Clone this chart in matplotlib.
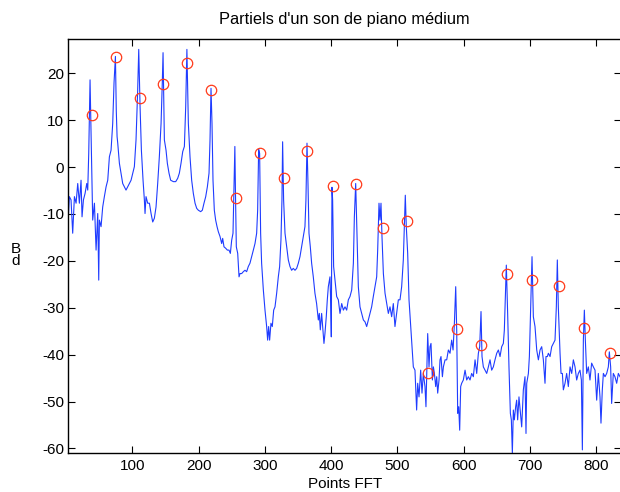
import matplotlib
matplotlib.use("Agg")
import matplotlib.pyplot as plt

plt.rcParams['font.family'] = ['Liberation Sans', 'DejaVu Sans']
plt.rcParams['axes.unicode_minus'] = False

# spectre : points FFT / dB (meme nombre de valeurs par ligne)
fft_pts = [
    3.4, 5, 7.5, 10, 12.6, 15.1, 17.6, 20.1, 22.6, 24.1, 26.2, 28.7, 31.2, 32.7, 34.2, 36.2, 38.2,
    40.2, 42.8, 45.3, 47.8, 49.3, 50.3, 52.8, 55.3, 57.8, 60.4, 62.9, 65.4, 67.9, 70.4, 72.4, 74.5,
    75.8, 77, 78, 80.5, 83, 85.5, 88, 90.5, 93, 95.6, 98.1, 100.6, 103.1, 105.6, 108.1, 109.7,
    111.7, 113.7, 116.2, 118.2, 119.2, 120.7, 123.2, 125.8, 128.3, 130.8, 133.3, 135.8, 138.3,
    140.8, 143.4, 145.2, 146.4, 148.4, 150.9, 152.9, 155.4, 157.9, 162, 165.5, 168.5, 171, 173.5,
    176.1, 178.6, 180.6, 182.4, 184.6, 187.1, 189.6, 192.1, 194.7, 197.2, 199.7, 203.2, 205.7,
    208.2, 210.8, 213.3, 215.8, 217.3, 218.8, 220.3, 221.8, 223.8, 225.8, 227.9, 229.9, 232.4,
    234.9, 236.4, 238.4, 240.9, 243.5, 246, 248, 250, 252, 253.5, 254.8, 255.8, 257, 259.1, 261.1,
    262.6, 265.1, 267.6, 270.1, 272.6, 275.1, 277.6, 280.2, 282.7, 285.2, 287.7, 289.2, 290.7,
    292.2, 293.7, 295.2, 297.8, 300.3, 302.8, 304.3, 305.8, 307.3, 309.3, 311.3, 313.4, 315.4,
    317.9, 320.4, 322.4, 324.4, 325.9, 326.9, 328.4, 330.5, 333, 335.5, 338, 340.5, 343, 345.6,
    348.1, 350.6, 353.1, 355.6, 358.1, 360.6, 362.1, 363.7, 365.2, 366.7, 368.7, 370.7, 373.2,
    375.7, 378.2, 380.8, 382.3, 383.8, 385.8, 387.3, 389.3, 390.8, 392.8, 394.3, 395.9, 398.4,
    399.4, 400.4, 401.4, 402.4, 403.9, 406, 408.5, 411, 413.5, 416.1, 418.6, 421.1, 423.6, 426.1,
    428.6, 431.2, 433.7, 435.2, 437.2, 439.2, 441.2, 443.7, 446.2, 448.8, 451.3, 453.8, 456.3,
    458.8, 461.3, 463.8, 466.4, 468.9, 470.4, 472.4, 473.9, 475.4, 476.9, 479, 481.5, 484, 486.5,
    489, 491.5, 494, 496.5, 499, 501.6, 504.1, 506.6, 509.1, 510.6, 512.1, 513.6, 515.7, 517.7,
    519.7, 521.2, 522.7, 524.2, 526.7, 529.2, 530.8, 532.8, 535.3, 537.3, 539.3, 541.8, 543.3,
    545.9, 547.9, 549.4, 550.9, 553, 554.5, 556, 558, 559.5, 561, 563, 564.5,
    566, 568.1, 569.6, 572.1, 574.6, 577.1, 579.6, 582.1, 584.2, 586.2, 588.2, 589.7,
    591.2, 592.7, 594.2, 595.7, 597.2, 599.7, 602.3, 604.8, 607.3, 609.8, 612.3, 614.8,
    617.4, 619.9, 622.4, 624.4, 626.4, 627.9, 629.9, 632.4, 635, 637.5, 640, 642.5,
    645, 647.5, 650.1, 652.6, 655.1, 657.6, 660.1, 661.6, 663.1, 664.6, 666.6, 668.6,
    670.7, 672.2, 673.7, 675.2, 676.7, 678.7, 680.2, 681.7, 683.7, 687.8, 690.3, 692.8,
    694.3, 695.4, 697.9, 699.4, 701.4, 703.4, 705.4, 707.9, 710.5, 713, 715.5, 718,
    720.5, 723, 724.5, 726.5, 728.1, 730.6, 733.1, 735.6, 738.1, 740.1, 741.6, 743.1,
    745.7, 747.2, 749.2, 750.7, 753.2, 755.7, 758.2, 760.8, 763.3, 765.8, 768.3, 770.8,
    773.3, 775.8, 777.9, 779.4, 780.9, 782.4, 783.9, 785.9, 788.4, 790.9, 793.4, 796,
    798.5, 801, 803.5, 806, 807.5, 809.5, 811.1, 813.6, 816.1, 818.6, 820.1, 822.1,
    823.6, 826.1, 828.6, 831.2, 833.7, 836.2,
]
db = [
    -10.6, -6.3, -7.0, -14.1, -6.3, -7.7, -3.5, -7.7, -2.8, -10.6, -7.0, -5.6, -3.5, -4.9, 2.9, 18.6, 3.6,
    -11.3, -7.7, -17.7, -9.9, -24.1, -11.3, -12.7, -8.5, -6.3, -4.2, -2.8, 2.2, 3.6, 9.3, 18.0, 23.6,
    12.0, 6.5, 5.1, 0.8, -1.3, -3.5, -4.2, -4.9, -4.2, -3.5, -2.8, -1.3, 0.1, 5.8, 16.4, 25.1,
    12.9, 3.6, -2.8, -7.0, -9.9, -6.3, -7.7, -7.7, -9.9, -11.7, -10.9, -8.5, -3.5,
    2.2, 9.3, 17.7, 24.4, 5.8, 3.6, 0.8, -1.3, -2.8, -3.1, -3.1, -2.4, -1.3, 0.8,
    3.3, 4.4, 12.9, 25.1, 9.3, 2.2, -2.8, -5.6, -7.7, -8.8, -9.2, -9.5, -9.2,
    -7.7, -6.3, -4.2, -1.3, 5.8, 16.8, 9.3, -2.8, -9.2, -11.3, -12.7, -13.8, -14.8,
    -16.3, -15.2, -17.0, -17.3, -17.7, -17.7, -18.4, -15.6, -14.1, -4.2, 4.4, -6.3, -17.0, -18.4, -23.4,
    -22.7, -22.7, -22.3, -22.0, -22.3, -21.2, -20.5, -19.1, -17.7, -16.3, -14.1, -9.2, 3.8,
    2.9, -14.1, -20.5, -26.2, -30.5, -34.0, -36.9, -34.0, -36.9, -33.3, -34.0, -30.5, -29.8,
    -26.9, -23.4, -21.2, -15.5, -7.0, 5.4, -7.0, -14.1, -17.0, -19.8, -21.2, -22.0, -21.6, -22.0,
    -21.6, -20.5, -19.1, -17.0, -14.8, -12.7, -7.0, 5.1, -3.5, -14.1, -17.0, -20.5, -23.4,
    -26.9, -29.1, -32.6, -31.2, -34.7, -31.2, -34.0, -37.6, -35.5, -31.9, -28.4, -25.5, -23.4,
    -28.4, -36.2, -4.3, -7.0, -21.2, -24.1, -27.6, -28.3, -31.2, -29.1, -30.5, -29.8, -30.5, -28.3,
    -27.6, -26.2, -20.5, -10.6, -3.5, -14.1, -25.5, -29.8, -31.2, -32.6, -33.0, -34.0, -32.6,
    -31.2, -29.8, -27.6, -25.5, -23.4, -17.7, -7.7, -11.3, -7.7, -14.8, -22.7, -26.9, -29.1, -31.2,
    -29.8, -31.9, -29.1, -34.0, -31.2, -28.3, -28.3, -25.5, -19.8, -12.7, -6.0, -12.7, -18.4, -28.3,
    -32.6, -35.5, -39.0, -42.6, -43.3, -51.8, -46.1, -49.0, -43.3, -48.2, -44.0, -46.8, -51.1,
    -35.5, -42.6, -38.3, -37.6, -45.4, -42.6, -44.0, -46.8, -44.7, -48.2, -45.4, -41.1,
    -40.4, -44.7, -42.6, -41.1, -41.1, -39.0, -39.7, -36.9, -39.0, -33.3, -25.5, -34.8,
    -52.5, -51.1, -56.1, -46.8, -46.1, -45.4, -43.3, -45.4, -44.7, -45.4, -44.0, -44.7,
    -41.1, -44.0, -39.7, -38.3, -30.8, -40.4, -42.6, -43.3, -44.0, -42.6, -41.1, -43.3,
    -42.6, -41.1, -39.7, -39.0, -40.4, -38.3, -37.6, -34.8, -27.6, -20.9, -31.2, -42.6,
    -52.5, -53.9, -61.0, -51.8, -53.9, -51.1, -49.7, -53.9, -49.0, -55.4, -47.5, -44.7,
    -56.8, -46.1, -44.0, -40.4, -29.8, -19.1, -31.9, -34.0, -39.0, -41.1, -39.0, -38.3,
    -41.1, -46.1, -40.4, -40.4, -39.7, -40.4, -38.3, -37.6, -36.9, -29.8, -19.8, -29.8,
    -39.7, -44.0, -44.0, -47.5, -46.1, -44.0, -46.8, -42.6, -44.0, -41.1, -42.6, -45.4,
    -44.0, -43.3, -45.4, -60.3, -36.9, -30.5, -36.9, -44.0, -42.6, -45.4, -41.8, -42.6,
    -43.3, -49.7, -44.0, -49.0, -54.6, -47.5, -44.0, -44.7, -44.0, -42.6, -39.4, -42.6,
    -50.4, -44.0, -44.7, -46.1, -44.0, -44.7,
]

# partiels detectes
peak_pts = [38.7, 74.9, 111.6, 145.9, 183.0, 219.3, 256.1, 292.8, 329.0, 364.2, 402.5,
            437.7, 478.0, 514.2, 546.9, 589.7, 626.4, 665.2, 703.6, 744.2, 782.6, 821.1]
peak_db = [11.2, 23.4, 14.8, 17.7, 22.1, 16.4, -6.5, 2.9, -2.4, 3.5, -4.0,
           -3.5, -13.0, -11.4, -43.9, -34.6, -38.0, -22.8, -24.1, -25.4, -34.4, -39.6]

xticks = [100, 200, 300, 400, 500, 600, 700, 800]
yticks = [-60, -50, -40, -30, -20, -10, 0, 10, 20]

fs = 11

fig = plt.figure(figsize=(6.2, 4.92), dpi=100)
ax = fig.add_axes([0.1102, 0.0799, 0.8915, 0.8402])

ax.plot(fft_pts, db, color="#1f3cff", lw=0.8)
ax.plot(peak_pts, peak_db, "o", mfc="none", mec="#ff3a1a", ms=7.5, mew=0.9)

ax.set_xlim(3.4, 837.8)
ax.set_ylim(-60.9, 27.25)
ax.set_xticks(xticks)
ax.set_yticks(yticks)
ax.tick_params(direction="in", top=True, right=True, length=5, width=0.8,
               labelsize=fs)
ax.tick_params(axis="x", pad=4.5)
ax.tick_params(axis="y", pad=3)
for s in ax.spines.values():
    s.set_linewidth(1.0)

ax.set_title("Partiels d'un son de piano médium", fontsize=11.8, pad=11)
ax.set_xlabel("Points FFT", fontsize=fs, labelpad=3)
fig.text(16 / 620, 1 - 255 / 492, "B\nd", ha="center", va="center",
         fontsize=fs, linespacing=0.8)

fig.savefig("out.png", dpi=100)
